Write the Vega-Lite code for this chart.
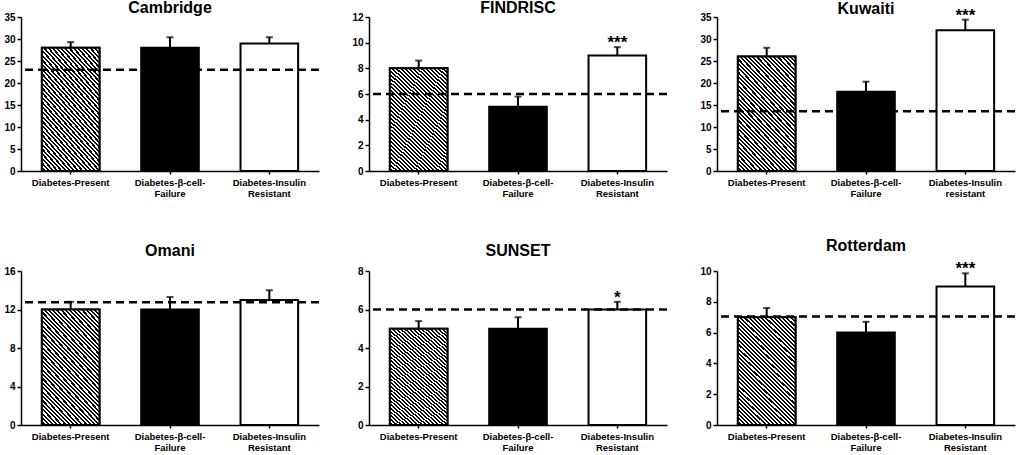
{
  "$schema": "https://vega.github.io/schema/vega-lite/v6.json",
  "padding": {"left": 3, "top": 0, "right": 0, "bottom": 0},
  "columns": 3,
  "spacing": {"row": 100, "column": 50},
  "bounds": "flush",
  "concat": [
    {
      "title": {"text": "Cambridge"},
      "width": 298,
      "height": 154,
      "data": {"values": [
        {"group": "Diabetes-Present", "mean": 28, "upper": 29.3, "ref": 23, "sig": ""},
        {"group": "Diabetes-β-cell-Failure", "mean": 28, "upper": 30.4, "ref": 23, "sig": ""},
        {"group": "Diabetes-Insulin Resistant", "mean": 29, "upper": 30.4, "ref": 23, "sig": ""}
      ]},
      "layer": [
        {
          "mark": {"type": "bar", "stroke": "black", "strokeWidth": 2},
          "encoding": {
            "x": {"field": "group", "type": "nominal", "sort": null, "scale": {"paddingInner": 0.42, "paddingOuter": 0.21}, "axis": {"title": null, "labelExpr": "datum.value == 'Diabetes-β-cell-Failure' ? ['Diabetes-β-cell-', 'Failure'] : indexof(datum.value, ' ') > 0 ? split(datum.value, ' ') : datum.value"}},
            "y": {"field": "mean", "type": "quantitative", "scale": {"domain": [0, 35], "nice": false}, "axis": {"title": null, "tickCount": 10, "values": [0, 5, 10, 15, 20, 25, 30, 35]}},
            "fill": {"condition": {"test": "datum.group === 'Diabetes-β-cell-Failure'", "value": "black"}, "value": "white"}
          }
        },
        {
          "transform": [{"filter": "datum.group === 'Diabetes-Present'"}],
          "mark": {"type": "bar", "stroke": "black", "strokeWidth": 2, "fill": {
          "gradient": "linear", "x1": 0, "y1": 1, "x2": 0.626, "y2": -0.196,
          "stops": [
            {"offset": 0, "color": "#fff"}, {"offset": 0.0125, "color": "#fff"}, {"offset": 0.0125, "color": "#000"}, {"offset": 0.025, "color": "#000"},
            {"offset": 0.025, "color": "#fff"}, {"offset": 0.0375, "color": "#fff"}, {"offset": 0.0375, "color": "#000"}, {"offset": 0.05, "color": "#000"},
            {"offset": 0.05, "color": "#fff"}, {"offset": 0.0625, "color": "#fff"}, {"offset": 0.0625, "color": "#000"}, {"offset": 0.075, "color": "#000"},
            {"offset": 0.075, "color": "#fff"}, {"offset": 0.0875, "color": "#fff"}, {"offset": 0.0875, "color": "#000"}, {"offset": 0.1, "color": "#000"},
            {"offset": 0.1, "color": "#fff"}, {"offset": 0.1125, "color": "#fff"}, {"offset": 0.1125, "color": "#000"}, {"offset": 0.125, "color": "#000"},
            {"offset": 0.125, "color": "#fff"}, {"offset": 0.1375, "color": "#fff"}, {"offset": 0.1375, "color": "#000"}, {"offset": 0.15, "color": "#000"},
            {"offset": 0.15, "color": "#fff"}, {"offset": 0.1625, "color": "#fff"}, {"offset": 0.1625, "color": "#000"}, {"offset": 0.175, "color": "#000"},
            {"offset": 0.175, "color": "#fff"}, {"offset": 0.1875, "color": "#fff"}, {"offset": 0.1875, "color": "#000"}, {"offset": 0.2, "color": "#000"},
            {"offset": 0.2, "color": "#fff"}, {"offset": 0.2125, "color": "#fff"}, {"offset": 0.2125, "color": "#000"}, {"offset": 0.225, "color": "#000"},
            {"offset": 0.225, "color": "#fff"}, {"offset": 0.2375, "color": "#fff"}, {"offset": 0.2375, "color": "#000"}, {"offset": 0.25, "color": "#000"},
            {"offset": 0.25, "color": "#fff"}, {"offset": 0.2625, "color": "#fff"}, {"offset": 0.2625, "color": "#000"}, {"offset": 0.275, "color": "#000"},
            {"offset": 0.275, "color": "#fff"}, {"offset": 0.2875, "color": "#fff"}, {"offset": 0.2875, "color": "#000"}, {"offset": 0.3, "color": "#000"},
            {"offset": 0.3, "color": "#fff"}, {"offset": 0.3125, "color": "#fff"}, {"offset": 0.3125, "color": "#000"}, {"offset": 0.325, "color": "#000"},
            {"offset": 0.325, "color": "#fff"}, {"offset": 0.3375, "color": "#fff"}, {"offset": 0.3375, "color": "#000"}, {"offset": 0.35, "color": "#000"},
            {"offset": 0.35, "color": "#fff"}, {"offset": 0.3625, "color": "#fff"}, {"offset": 0.3625, "color": "#000"}, {"offset": 0.375, "color": "#000"},
            {"offset": 0.375, "color": "#fff"}, {"offset": 0.3875, "color": "#fff"}, {"offset": 0.3875, "color": "#000"}, {"offset": 0.4, "color": "#000"},
            {"offset": 0.4, "color": "#fff"}, {"offset": 0.4125, "color": "#fff"}, {"offset": 0.4125, "color": "#000"}, {"offset": 0.425, "color": "#000"},
            {"offset": 0.425, "color": "#fff"}, {"offset": 0.4375, "color": "#fff"}, {"offset": 0.4375, "color": "#000"}, {"offset": 0.45, "color": "#000"},
            {"offset": 0.45, "color": "#fff"}, {"offset": 0.4625, "color": "#fff"}, {"offset": 0.4625, "color": "#000"}, {"offset": 0.475, "color": "#000"},
            {"offset": 0.475, "color": "#fff"}, {"offset": 0.4875, "color": "#fff"}, {"offset": 0.4875, "color": "#000"}, {"offset": 0.5, "color": "#000"},
            {"offset": 0.5, "color": "#fff"}, {"offset": 0.5125, "color": "#fff"}, {"offset": 0.5125, "color": "#000"}, {"offset": 0.525, "color": "#000"},
            {"offset": 0.525, "color": "#fff"}, {"offset": 0.5375, "color": "#fff"}, {"offset": 0.5375, "color": "#000"}, {"offset": 0.55, "color": "#000"},
            {"offset": 0.55, "color": "#fff"}, {"offset": 0.5625, "color": "#fff"}, {"offset": 0.5625, "color": "#000"}, {"offset": 0.575, "color": "#000"},
            {"offset": 0.575, "color": "#fff"}, {"offset": 0.5875, "color": "#fff"}, {"offset": 0.5875, "color": "#000"}, {"offset": 0.6, "color": "#000"},
            {"offset": 0.6, "color": "#fff"}, {"offset": 0.6125, "color": "#fff"}, {"offset": 0.6125, "color": "#000"}, {"offset": 0.625, "color": "#000"},
            {"offset": 0.625, "color": "#fff"}, {"offset": 0.6375, "color": "#fff"}, {"offset": 0.6375, "color": "#000"}, {"offset": 0.65, "color": "#000"},
            {"offset": 0.65, "color": "#fff"}, {"offset": 0.6625, "color": "#fff"}, {"offset": 0.6625, "color": "#000"}, {"offset": 0.675, "color": "#000"},
            {"offset": 0.675, "color": "#fff"}, {"offset": 0.6875, "color": "#fff"}, {"offset": 0.6875, "color": "#000"}, {"offset": 0.7, "color": "#000"},
            {"offset": 0.7, "color": "#fff"}, {"offset": 0.7125, "color": "#fff"}, {"offset": 0.7125, "color": "#000"}, {"offset": 0.725, "color": "#000"},
            {"offset": 0.725, "color": "#fff"}, {"offset": 0.7375, "color": "#fff"}, {"offset": 0.7375, "color": "#000"}, {"offset": 0.75, "color": "#000"},
            {"offset": 0.75, "color": "#fff"}, {"offset": 0.7625, "color": "#fff"}, {"offset": 0.7625, "color": "#000"}, {"offset": 0.775, "color": "#000"},
            {"offset": 0.775, "color": "#fff"}, {"offset": 0.7875, "color": "#fff"}, {"offset": 0.7875, "color": "#000"}, {"offset": 0.8, "color": "#000"},
            {"offset": 0.8, "color": "#fff"}, {"offset": 0.8125, "color": "#fff"}, {"offset": 0.8125, "color": "#000"}, {"offset": 0.825, "color": "#000"},
            {"offset": 0.825, "color": "#fff"}, {"offset": 0.8375, "color": "#fff"}, {"offset": 0.8375, "color": "#000"}, {"offset": 0.85, "color": "#000"},
            {"offset": 0.85, "color": "#fff"}, {"offset": 0.8625, "color": "#fff"}, {"offset": 0.8625, "color": "#000"}, {"offset": 0.875, "color": "#000"},
            {"offset": 0.875, "color": "#fff"}, {"offset": 0.8875, "color": "#fff"}, {"offset": 0.8875, "color": "#000"}, {"offset": 0.9, "color": "#000"},
            {"offset": 0.9, "color": "#fff"}, {"offset": 0.9125, "color": "#fff"}, {"offset": 0.9125, "color": "#000"}, {"offset": 0.925, "color": "#000"},
            {"offset": 0.925, "color": "#fff"}, {"offset": 0.9375, "color": "#fff"}, {"offset": 0.9375, "color": "#000"}, {"offset": 0.95, "color": "#000"},
            {"offset": 0.95, "color": "#fff"}, {"offset": 0.9625, "color": "#fff"}, {"offset": 0.9625, "color": "#000"}, {"offset": 0.975, "color": "#000"},
            {"offset": 0.975, "color": "#fff"}, {"offset": 0.9875, "color": "#fff"}, {"offset": 0.9875, "color": "#000"}, {"offset": 1, "color": "#000"}
          ]}},
          "encoding": {"x": {"field": "group", "type": "nominal", "sort": null}, "y": {"field": "mean", "type": "quantitative"}}
        },
        {
          "mark": {"type": "rule", "strokeWidth": 2, "color": "black"},
          "encoding": {"x": {"field": "group", "type": "nominal", "sort": null}, "y": {"field": "mean", "type": "quantitative"}, "y2": {"field": "upper"}}
        },
        {
          "mark": {"type": "tick", "size": 7, "thickness": 2, "color": "black"},
          "encoding": {"x": {"field": "group", "type": "nominal", "sort": null}, "y": {"field": "upper", "type": "quantitative"}}
        },
        {
          "mark": {"type": "rule", "strokeDash": [8, 5], "strokeWidth": 2.5, "color": "black"},
          "encoding": {"y": {"aggregate": "mean", "field": "ref", "type": "quantitative"}}
        }
      ]
    },
    {
      "title": {"text": "FINDRISC"},
      "width": 298,
      "height": 154,
      "data": {"values": [
        {"group": "Diabetes-Present", "mean": 8, "upper": 8.6, "ref": 6, "sig": ""},
        {"group": "Diabetes-β-cell-Failure", "mean": 5, "upper": 5.8, "ref": 6, "sig": ""},
        {"group": "Diabetes-Insulin Resistant", "mean": 9, "upper": 9.65, "ref": 6, "sig": "***"}
      ]},
      "layer": [
        {
          "mark": {"type": "bar", "stroke": "black", "strokeWidth": 2},
          "encoding": {
            "x": {"field": "group", "type": "nominal", "sort": null, "scale": {"paddingInner": 0.42, "paddingOuter": 0.21}, "axis": {"title": null, "labelExpr": "datum.value == 'Diabetes-β-cell-Failure' ? ['Diabetes-β-cell-', 'Failure'] : indexof(datum.value, ' ') > 0 ? split(datum.value, ' ') : datum.value"}},
            "y": {"field": "mean", "type": "quantitative", "scale": {"domain": [0, 12], "nice": false}, "axis": {"title": null, "tickCount": 10, "values": [0, 2, 4, 6, 8, 10, 12]}},
            "fill": {"condition": {"test": "datum.group === 'Diabetes-β-cell-Failure'", "value": "black"}, "value": "white"}
          }
        },
        {
          "transform": [{"filter": "datum.group === 'Diabetes-Present'"}],
          "mark": {"type": "bar", "stroke": "black", "strokeWidth": 2, "fill": {
          "gradient": "linear", "x1": 0, "y1": 1, "x2": 0.626, "y2": -0.196,
          "stops": [
            {"offset": 0, "color": "#fff"}, {"offset": 0.0125, "color": "#fff"}, {"offset": 0.0125, "color": "#000"}, {"offset": 0.025, "color": "#000"},
            {"offset": 0.025, "color": "#fff"}, {"offset": 0.0375, "color": "#fff"}, {"offset": 0.0375, "color": "#000"}, {"offset": 0.05, "color": "#000"},
            {"offset": 0.05, "color": "#fff"}, {"offset": 0.0625, "color": "#fff"}, {"offset": 0.0625, "color": "#000"}, {"offset": 0.075, "color": "#000"},
            {"offset": 0.075, "color": "#fff"}, {"offset": 0.0875, "color": "#fff"}, {"offset": 0.0875, "color": "#000"}, {"offset": 0.1, "color": "#000"},
            {"offset": 0.1, "color": "#fff"}, {"offset": 0.1125, "color": "#fff"}, {"offset": 0.1125, "color": "#000"}, {"offset": 0.125, "color": "#000"},
            {"offset": 0.125, "color": "#fff"}, {"offset": 0.1375, "color": "#fff"}, {"offset": 0.1375, "color": "#000"}, {"offset": 0.15, "color": "#000"},
            {"offset": 0.15, "color": "#fff"}, {"offset": 0.1625, "color": "#fff"}, {"offset": 0.1625, "color": "#000"}, {"offset": 0.175, "color": "#000"},
            {"offset": 0.175, "color": "#fff"}, {"offset": 0.1875, "color": "#fff"}, {"offset": 0.1875, "color": "#000"}, {"offset": 0.2, "color": "#000"},
            {"offset": 0.2, "color": "#fff"}, {"offset": 0.2125, "color": "#fff"}, {"offset": 0.2125, "color": "#000"}, {"offset": 0.225, "color": "#000"},
            {"offset": 0.225, "color": "#fff"}, {"offset": 0.2375, "color": "#fff"}, {"offset": 0.2375, "color": "#000"}, {"offset": 0.25, "color": "#000"},
            {"offset": 0.25, "color": "#fff"}, {"offset": 0.2625, "color": "#fff"}, {"offset": 0.2625, "color": "#000"}, {"offset": 0.275, "color": "#000"},
            {"offset": 0.275, "color": "#fff"}, {"offset": 0.2875, "color": "#fff"}, {"offset": 0.2875, "color": "#000"}, {"offset": 0.3, "color": "#000"},
            {"offset": 0.3, "color": "#fff"}, {"offset": 0.3125, "color": "#fff"}, {"offset": 0.3125, "color": "#000"}, {"offset": 0.325, "color": "#000"},
            {"offset": 0.325, "color": "#fff"}, {"offset": 0.3375, "color": "#fff"}, {"offset": 0.3375, "color": "#000"}, {"offset": 0.35, "color": "#000"},
            {"offset": 0.35, "color": "#fff"}, {"offset": 0.3625, "color": "#fff"}, {"offset": 0.3625, "color": "#000"}, {"offset": 0.375, "color": "#000"},
            {"offset": 0.375, "color": "#fff"}, {"offset": 0.3875, "color": "#fff"}, {"offset": 0.3875, "color": "#000"}, {"offset": 0.4, "color": "#000"},
            {"offset": 0.4, "color": "#fff"}, {"offset": 0.4125, "color": "#fff"}, {"offset": 0.4125, "color": "#000"}, {"offset": 0.425, "color": "#000"},
            {"offset": 0.425, "color": "#fff"}, {"offset": 0.4375, "color": "#fff"}, {"offset": 0.4375, "color": "#000"}, {"offset": 0.45, "color": "#000"},
            {"offset": 0.45, "color": "#fff"}, {"offset": 0.4625, "color": "#fff"}, {"offset": 0.4625, "color": "#000"}, {"offset": 0.475, "color": "#000"},
            {"offset": 0.475, "color": "#fff"}, {"offset": 0.4875, "color": "#fff"}, {"offset": 0.4875, "color": "#000"}, {"offset": 0.5, "color": "#000"},
            {"offset": 0.5, "color": "#fff"}, {"offset": 0.5125, "color": "#fff"}, {"offset": 0.5125, "color": "#000"}, {"offset": 0.525, "color": "#000"},
            {"offset": 0.525, "color": "#fff"}, {"offset": 0.5375, "color": "#fff"}, {"offset": 0.5375, "color": "#000"}, {"offset": 0.55, "color": "#000"},
            {"offset": 0.55, "color": "#fff"}, {"offset": 0.5625, "color": "#fff"}, {"offset": 0.5625, "color": "#000"}, {"offset": 0.575, "color": "#000"},
            {"offset": 0.575, "color": "#fff"}, {"offset": 0.5875, "color": "#fff"}, {"offset": 0.5875, "color": "#000"}, {"offset": 0.6, "color": "#000"},
            {"offset": 0.6, "color": "#fff"}, {"offset": 0.6125, "color": "#fff"}, {"offset": 0.6125, "color": "#000"}, {"offset": 0.625, "color": "#000"},
            {"offset": 0.625, "color": "#fff"}, {"offset": 0.6375, "color": "#fff"}, {"offset": 0.6375, "color": "#000"}, {"offset": 0.65, "color": "#000"},
            {"offset": 0.65, "color": "#fff"}, {"offset": 0.6625, "color": "#fff"}, {"offset": 0.6625, "color": "#000"}, {"offset": 0.675, "color": "#000"},
            {"offset": 0.675, "color": "#fff"}, {"offset": 0.6875, "color": "#fff"}, {"offset": 0.6875, "color": "#000"}, {"offset": 0.7, "color": "#000"},
            {"offset": 0.7, "color": "#fff"}, {"offset": 0.7125, "color": "#fff"}, {"offset": 0.7125, "color": "#000"}, {"offset": 0.725, "color": "#000"},
            {"offset": 0.725, "color": "#fff"}, {"offset": 0.7375, "color": "#fff"}, {"offset": 0.7375, "color": "#000"}, {"offset": 0.75, "color": "#000"},
            {"offset": 0.75, "color": "#fff"}, {"offset": 0.7625, "color": "#fff"}, {"offset": 0.7625, "color": "#000"}, {"offset": 0.775, "color": "#000"},
            {"offset": 0.775, "color": "#fff"}, {"offset": 0.7875, "color": "#fff"}, {"offset": 0.7875, "color": "#000"}, {"offset": 0.8, "color": "#000"},
            {"offset": 0.8, "color": "#fff"}, {"offset": 0.8125, "color": "#fff"}, {"offset": 0.8125, "color": "#000"}, {"offset": 0.825, "color": "#000"},
            {"offset": 0.825, "color": "#fff"}, {"offset": 0.8375, "color": "#fff"}, {"offset": 0.8375, "color": "#000"}, {"offset": 0.85, "color": "#000"},
            {"offset": 0.85, "color": "#fff"}, {"offset": 0.8625, "color": "#fff"}, {"offset": 0.8625, "color": "#000"}, {"offset": 0.875, "color": "#000"},
            {"offset": 0.875, "color": "#fff"}, {"offset": 0.8875, "color": "#fff"}, {"offset": 0.8875, "color": "#000"}, {"offset": 0.9, "color": "#000"},
            {"offset": 0.9, "color": "#fff"}, {"offset": 0.9125, "color": "#fff"}, {"offset": 0.9125, "color": "#000"}, {"offset": 0.925, "color": "#000"},
            {"offset": 0.925, "color": "#fff"}, {"offset": 0.9375, "color": "#fff"}, {"offset": 0.9375, "color": "#000"}, {"offset": 0.95, "color": "#000"},
            {"offset": 0.95, "color": "#fff"}, {"offset": 0.9625, "color": "#fff"}, {"offset": 0.9625, "color": "#000"}, {"offset": 0.975, "color": "#000"},
            {"offset": 0.975, "color": "#fff"}, {"offset": 0.9875, "color": "#fff"}, {"offset": 0.9875, "color": "#000"}, {"offset": 1, "color": "#000"}
          ]}},
          "encoding": {"x": {"field": "group", "type": "nominal", "sort": null}, "y": {"field": "mean", "type": "quantitative"}}
        },
        {
          "mark": {"type": "rule", "strokeWidth": 2, "color": "black"},
          "encoding": {"x": {"field": "group", "type": "nominal", "sort": null}, "y": {"field": "mean", "type": "quantitative"}, "y2": {"field": "upper"}}
        },
        {
          "mark": {"type": "tick", "size": 7, "thickness": 2, "color": "black"},
          "encoding": {"x": {"field": "group", "type": "nominal", "sort": null}, "y": {"field": "upper", "type": "quantitative"}}
        },
        {
          "mark": {"type": "text", "baseline": "alphabetic", "dy": 1, "fontSize": 17, "font": "Liberation Sans", "fontWeight": "bold", "color": "black"},
          "encoding": {"x": {"field": "group", "type": "nominal", "sort": null}, "y": {"field": "upper", "type": "quantitative"}, "text": {"field": "sig"}}
        },
        {
          "mark": {"type": "rule", "strokeDash": [8, 5], "strokeWidth": 2.5, "color": "black"},
          "encoding": {"y": {"aggregate": "mean", "field": "ref", "type": "quantitative"}}
        }
      ]
    },
    {
      "title": {"text": "Kuwaiti", "dy": 6.5},
      "width": 298,
      "height": 154,
      "data": {"values": [
        {"group": "Diabetes-Present", "mean": 26, "upper": 28, "ref": 13.6, "sig": ""},
        {"group": "Diabetes-β-cell-Failure", "mean": 18, "upper": 20.3, "ref": 13.6, "sig": ""},
        {"group": "Diabetes-Insulin resistant", "mean": 32, "upper": 34.4, "ref": 13.6, "sig": "***"}
      ]},
      "layer": [
        {
          "mark": {"type": "bar", "stroke": "black", "strokeWidth": 2},
          "encoding": {
            "x": {"field": "group", "type": "nominal", "sort": null, "scale": {"paddingInner": 0.42, "paddingOuter": 0.21}, "axis": {"title": null, "labelExpr": "datum.value == 'Diabetes-β-cell-Failure' ? ['Diabetes-β-cell-', 'Failure'] : indexof(datum.value, ' ') > 0 ? split(datum.value, ' ') : datum.value"}},
            "y": {"field": "mean", "type": "quantitative", "scale": {"domain": [0, 35], "nice": false}, "axis": {"title": null, "tickCount": 10, "values": [0, 5, 10, 15, 20, 25, 30, 35]}},
            "fill": {"condition": {"test": "datum.group === 'Diabetes-β-cell-Failure'", "value": "black"}, "value": "white"}
          }
        },
        {
          "transform": [{"filter": "datum.group === 'Diabetes-Present'"}],
          "mark": {"type": "bar", "stroke": "black", "strokeWidth": 2, "fill": {
          "gradient": "linear", "x1": 0, "y1": 1, "x2": 0.626, "y2": -0.196,
          "stops": [
            {"offset": 0, "color": "#fff"}, {"offset": 0.0125, "color": "#fff"}, {"offset": 0.0125, "color": "#000"}, {"offset": 0.025, "color": "#000"},
            {"offset": 0.025, "color": "#fff"}, {"offset": 0.0375, "color": "#fff"}, {"offset": 0.0375, "color": "#000"}, {"offset": 0.05, "color": "#000"},
            {"offset": 0.05, "color": "#fff"}, {"offset": 0.0625, "color": "#fff"}, {"offset": 0.0625, "color": "#000"}, {"offset": 0.075, "color": "#000"},
            {"offset": 0.075, "color": "#fff"}, {"offset": 0.0875, "color": "#fff"}, {"offset": 0.0875, "color": "#000"}, {"offset": 0.1, "color": "#000"},
            {"offset": 0.1, "color": "#fff"}, {"offset": 0.1125, "color": "#fff"}, {"offset": 0.1125, "color": "#000"}, {"offset": 0.125, "color": "#000"},
            {"offset": 0.125, "color": "#fff"}, {"offset": 0.1375, "color": "#fff"}, {"offset": 0.1375, "color": "#000"}, {"offset": 0.15, "color": "#000"},
            {"offset": 0.15, "color": "#fff"}, {"offset": 0.1625, "color": "#fff"}, {"offset": 0.1625, "color": "#000"}, {"offset": 0.175, "color": "#000"},
            {"offset": 0.175, "color": "#fff"}, {"offset": 0.1875, "color": "#fff"}, {"offset": 0.1875, "color": "#000"}, {"offset": 0.2, "color": "#000"},
            {"offset": 0.2, "color": "#fff"}, {"offset": 0.2125, "color": "#fff"}, {"offset": 0.2125, "color": "#000"}, {"offset": 0.225, "color": "#000"},
            {"offset": 0.225, "color": "#fff"}, {"offset": 0.2375, "color": "#fff"}, {"offset": 0.2375, "color": "#000"}, {"offset": 0.25, "color": "#000"},
            {"offset": 0.25, "color": "#fff"}, {"offset": 0.2625, "color": "#fff"}, {"offset": 0.2625, "color": "#000"}, {"offset": 0.275, "color": "#000"},
            {"offset": 0.275, "color": "#fff"}, {"offset": 0.2875, "color": "#fff"}, {"offset": 0.2875, "color": "#000"}, {"offset": 0.3, "color": "#000"},
            {"offset": 0.3, "color": "#fff"}, {"offset": 0.3125, "color": "#fff"}, {"offset": 0.3125, "color": "#000"}, {"offset": 0.325, "color": "#000"},
            {"offset": 0.325, "color": "#fff"}, {"offset": 0.3375, "color": "#fff"}, {"offset": 0.3375, "color": "#000"}, {"offset": 0.35, "color": "#000"},
            {"offset": 0.35, "color": "#fff"}, {"offset": 0.3625, "color": "#fff"}, {"offset": 0.3625, "color": "#000"}, {"offset": 0.375, "color": "#000"},
            {"offset": 0.375, "color": "#fff"}, {"offset": 0.3875, "color": "#fff"}, {"offset": 0.3875, "color": "#000"}, {"offset": 0.4, "color": "#000"},
            {"offset": 0.4, "color": "#fff"}, {"offset": 0.4125, "color": "#fff"}, {"offset": 0.4125, "color": "#000"}, {"offset": 0.425, "color": "#000"},
            {"offset": 0.425, "color": "#fff"}, {"offset": 0.4375, "color": "#fff"}, {"offset": 0.4375, "color": "#000"}, {"offset": 0.45, "color": "#000"},
            {"offset": 0.45, "color": "#fff"}, {"offset": 0.4625, "color": "#fff"}, {"offset": 0.4625, "color": "#000"}, {"offset": 0.475, "color": "#000"},
            {"offset": 0.475, "color": "#fff"}, {"offset": 0.4875, "color": "#fff"}, {"offset": 0.4875, "color": "#000"}, {"offset": 0.5, "color": "#000"},
            {"offset": 0.5, "color": "#fff"}, {"offset": 0.5125, "color": "#fff"}, {"offset": 0.5125, "color": "#000"}, {"offset": 0.525, "color": "#000"},
            {"offset": 0.525, "color": "#fff"}, {"offset": 0.5375, "color": "#fff"}, {"offset": 0.5375, "color": "#000"}, {"offset": 0.55, "color": "#000"},
            {"offset": 0.55, "color": "#fff"}, {"offset": 0.5625, "color": "#fff"}, {"offset": 0.5625, "color": "#000"}, {"offset": 0.575, "color": "#000"},
            {"offset": 0.575, "color": "#fff"}, {"offset": 0.5875, "color": "#fff"}, {"offset": 0.5875, "color": "#000"}, {"offset": 0.6, "color": "#000"},
            {"offset": 0.6, "color": "#fff"}, {"offset": 0.6125, "color": "#fff"}, {"offset": 0.6125, "color": "#000"}, {"offset": 0.625, "color": "#000"},
            {"offset": 0.625, "color": "#fff"}, {"offset": 0.6375, "color": "#fff"}, {"offset": 0.6375, "color": "#000"}, {"offset": 0.65, "color": "#000"},
            {"offset": 0.65, "color": "#fff"}, {"offset": 0.6625, "color": "#fff"}, {"offset": 0.6625, "color": "#000"}, {"offset": 0.675, "color": "#000"},
            {"offset": 0.675, "color": "#fff"}, {"offset": 0.6875, "color": "#fff"}, {"offset": 0.6875, "color": "#000"}, {"offset": 0.7, "color": "#000"},
            {"offset": 0.7, "color": "#fff"}, {"offset": 0.7125, "color": "#fff"}, {"offset": 0.7125, "color": "#000"}, {"offset": 0.725, "color": "#000"},
            {"offset": 0.725, "color": "#fff"}, {"offset": 0.7375, "color": "#fff"}, {"offset": 0.7375, "color": "#000"}, {"offset": 0.75, "color": "#000"},
            {"offset": 0.75, "color": "#fff"}, {"offset": 0.7625, "color": "#fff"}, {"offset": 0.7625, "color": "#000"}, {"offset": 0.775, "color": "#000"},
            {"offset": 0.775, "color": "#fff"}, {"offset": 0.7875, "color": "#fff"}, {"offset": 0.7875, "color": "#000"}, {"offset": 0.8, "color": "#000"},
            {"offset": 0.8, "color": "#fff"}, {"offset": 0.8125, "color": "#fff"}, {"offset": 0.8125, "color": "#000"}, {"offset": 0.825, "color": "#000"},
            {"offset": 0.825, "color": "#fff"}, {"offset": 0.8375, "color": "#fff"}, {"offset": 0.8375, "color": "#000"}, {"offset": 0.85, "color": "#000"},
            {"offset": 0.85, "color": "#fff"}, {"offset": 0.8625, "color": "#fff"}, {"offset": 0.8625, "color": "#000"}, {"offset": 0.875, "color": "#000"},
            {"offset": 0.875, "color": "#fff"}, {"offset": 0.8875, "color": "#fff"}, {"offset": 0.8875, "color": "#000"}, {"offset": 0.9, "color": "#000"},
            {"offset": 0.9, "color": "#fff"}, {"offset": 0.9125, "color": "#fff"}, {"offset": 0.9125, "color": "#000"}, {"offset": 0.925, "color": "#000"},
            {"offset": 0.925, "color": "#fff"}, {"offset": 0.9375, "color": "#fff"}, {"offset": 0.9375, "color": "#000"}, {"offset": 0.95, "color": "#000"},
            {"offset": 0.95, "color": "#fff"}, {"offset": 0.9625, "color": "#fff"}, {"offset": 0.9625, "color": "#000"}, {"offset": 0.975, "color": "#000"},
            {"offset": 0.975, "color": "#fff"}, {"offset": 0.9875, "color": "#fff"}, {"offset": 0.9875, "color": "#000"}, {"offset": 1, "color": "#000"}
          ]}},
          "encoding": {"x": {"field": "group", "type": "nominal", "sort": null}, "y": {"field": "mean", "type": "quantitative"}}
        },
        {
          "mark": {"type": "rule", "strokeWidth": 2, "color": "black"},
          "encoding": {"x": {"field": "group", "type": "nominal", "sort": null}, "y": {"field": "mean", "type": "quantitative"}, "y2": {"field": "upper"}}
        },
        {
          "mark": {"type": "tick", "size": 7, "thickness": 2, "color": "black"},
          "encoding": {"x": {"field": "group", "type": "nominal", "sort": null}, "y": {"field": "upper", "type": "quantitative"}}
        },
        {
          "mark": {"type": "text", "baseline": "alphabetic", "dy": 1, "fontSize": 17, "font": "Liberation Sans", "fontWeight": "bold", "color": "black"},
          "encoding": {"x": {"field": "group", "type": "nominal", "sort": null}, "y": {"field": "upper", "type": "quantitative"}, "text": {"field": "sig"}}
        },
        {
          "mark": {"type": "rule", "strokeDash": [8, 5], "strokeWidth": 2.5, "color": "black"},
          "encoding": {"y": {"aggregate": "mean", "field": "ref", "type": "quantitative"}}
        }
      ]
    },
    {
      "title": {"text": "Omani", "dy": -11},
      "width": 298,
      "height": 154,
      "data": {"values": [
        {"group": "Diabetes-Present", "mean": 12, "upper": 12.8, "ref": 12.75, "sig": ""},
        {"group": "Diabetes-β-cell-Failure", "mean": 12, "upper": 13.3, "ref": 12.75, "sig": ""},
        {"group": "Diabetes-Insulin Resistant", "mean": 13, "upper": 14, "ref": 12.75, "sig": ""}
      ]},
      "layer": [
        {
          "mark": {"type": "bar", "stroke": "black", "strokeWidth": 2},
          "encoding": {
            "x": {"field": "group", "type": "nominal", "sort": null, "scale": {"paddingInner": 0.42, "paddingOuter": 0.21}, "axis": {"title": null, "labelExpr": "datum.value == 'Diabetes-β-cell-Failure' ? ['Diabetes-β-cell-', 'Failure'] : indexof(datum.value, ' ') > 0 ? split(datum.value, ' ') : datum.value"}},
            "y": {"field": "mean", "type": "quantitative", "scale": {"domain": [0, 16], "nice": false}, "axis": {"title": null, "tickCount": 10, "values": [0, 4, 8, 12, 16]}},
            "fill": {"condition": {"test": "datum.group === 'Diabetes-β-cell-Failure'", "value": "black"}, "value": "white"}
          }
        },
        {
          "transform": [{"filter": "datum.group === 'Diabetes-Present'"}],
          "mark": {"type": "bar", "stroke": "black", "strokeWidth": 2, "fill": {
          "gradient": "linear", "x1": 0, "y1": 1, "x2": 0.626, "y2": -0.196,
          "stops": [
            {"offset": 0, "color": "#fff"}, {"offset": 0.0125, "color": "#fff"}, {"offset": 0.0125, "color": "#000"}, {"offset": 0.025, "color": "#000"},
            {"offset": 0.025, "color": "#fff"}, {"offset": 0.0375, "color": "#fff"}, {"offset": 0.0375, "color": "#000"}, {"offset": 0.05, "color": "#000"},
            {"offset": 0.05, "color": "#fff"}, {"offset": 0.0625, "color": "#fff"}, {"offset": 0.0625, "color": "#000"}, {"offset": 0.075, "color": "#000"},
            {"offset": 0.075, "color": "#fff"}, {"offset": 0.0875, "color": "#fff"}, {"offset": 0.0875, "color": "#000"}, {"offset": 0.1, "color": "#000"},
            {"offset": 0.1, "color": "#fff"}, {"offset": 0.1125, "color": "#fff"}, {"offset": 0.1125, "color": "#000"}, {"offset": 0.125, "color": "#000"},
            {"offset": 0.125, "color": "#fff"}, {"offset": 0.1375, "color": "#fff"}, {"offset": 0.1375, "color": "#000"}, {"offset": 0.15, "color": "#000"},
            {"offset": 0.15, "color": "#fff"}, {"offset": 0.1625, "color": "#fff"}, {"offset": 0.1625, "color": "#000"}, {"offset": 0.175, "color": "#000"},
            {"offset": 0.175, "color": "#fff"}, {"offset": 0.1875, "color": "#fff"}, {"offset": 0.1875, "color": "#000"}, {"offset": 0.2, "color": "#000"},
            {"offset": 0.2, "color": "#fff"}, {"offset": 0.2125, "color": "#fff"}, {"offset": 0.2125, "color": "#000"}, {"offset": 0.225, "color": "#000"},
            {"offset": 0.225, "color": "#fff"}, {"offset": 0.2375, "color": "#fff"}, {"offset": 0.2375, "color": "#000"}, {"offset": 0.25, "color": "#000"},
            {"offset": 0.25, "color": "#fff"}, {"offset": 0.2625, "color": "#fff"}, {"offset": 0.2625, "color": "#000"}, {"offset": 0.275, "color": "#000"},
            {"offset": 0.275, "color": "#fff"}, {"offset": 0.2875, "color": "#fff"}, {"offset": 0.2875, "color": "#000"}, {"offset": 0.3, "color": "#000"},
            {"offset": 0.3, "color": "#fff"}, {"offset": 0.3125, "color": "#fff"}, {"offset": 0.3125, "color": "#000"}, {"offset": 0.325, "color": "#000"},
            {"offset": 0.325, "color": "#fff"}, {"offset": 0.3375, "color": "#fff"}, {"offset": 0.3375, "color": "#000"}, {"offset": 0.35, "color": "#000"},
            {"offset": 0.35, "color": "#fff"}, {"offset": 0.3625, "color": "#fff"}, {"offset": 0.3625, "color": "#000"}, {"offset": 0.375, "color": "#000"},
            {"offset": 0.375, "color": "#fff"}, {"offset": 0.3875, "color": "#fff"}, {"offset": 0.3875, "color": "#000"}, {"offset": 0.4, "color": "#000"},
            {"offset": 0.4, "color": "#fff"}, {"offset": 0.4125, "color": "#fff"}, {"offset": 0.4125, "color": "#000"}, {"offset": 0.425, "color": "#000"},
            {"offset": 0.425, "color": "#fff"}, {"offset": 0.4375, "color": "#fff"}, {"offset": 0.4375, "color": "#000"}, {"offset": 0.45, "color": "#000"},
            {"offset": 0.45, "color": "#fff"}, {"offset": 0.4625, "color": "#fff"}, {"offset": 0.4625, "color": "#000"}, {"offset": 0.475, "color": "#000"},
            {"offset": 0.475, "color": "#fff"}, {"offset": 0.4875, "color": "#fff"}, {"offset": 0.4875, "color": "#000"}, {"offset": 0.5, "color": "#000"},
            {"offset": 0.5, "color": "#fff"}, {"offset": 0.5125, "color": "#fff"}, {"offset": 0.5125, "color": "#000"}, {"offset": 0.525, "color": "#000"},
            {"offset": 0.525, "color": "#fff"}, {"offset": 0.5375, "color": "#fff"}, {"offset": 0.5375, "color": "#000"}, {"offset": 0.55, "color": "#000"},
            {"offset": 0.55, "color": "#fff"}, {"offset": 0.5625, "color": "#fff"}, {"offset": 0.5625, "color": "#000"}, {"offset": 0.575, "color": "#000"},
            {"offset": 0.575, "color": "#fff"}, {"offset": 0.5875, "color": "#fff"}, {"offset": 0.5875, "color": "#000"}, {"offset": 0.6, "color": "#000"},
            {"offset": 0.6, "color": "#fff"}, {"offset": 0.6125, "color": "#fff"}, {"offset": 0.6125, "color": "#000"}, {"offset": 0.625, "color": "#000"},
            {"offset": 0.625, "color": "#fff"}, {"offset": 0.6375, "color": "#fff"}, {"offset": 0.6375, "color": "#000"}, {"offset": 0.65, "color": "#000"},
            {"offset": 0.65, "color": "#fff"}, {"offset": 0.6625, "color": "#fff"}, {"offset": 0.6625, "color": "#000"}, {"offset": 0.675, "color": "#000"},
            {"offset": 0.675, "color": "#fff"}, {"offset": 0.6875, "color": "#fff"}, {"offset": 0.6875, "color": "#000"}, {"offset": 0.7, "color": "#000"},
            {"offset": 0.7, "color": "#fff"}, {"offset": 0.7125, "color": "#fff"}, {"offset": 0.7125, "color": "#000"}, {"offset": 0.725, "color": "#000"},
            {"offset": 0.725, "color": "#fff"}, {"offset": 0.7375, "color": "#fff"}, {"offset": 0.7375, "color": "#000"}, {"offset": 0.75, "color": "#000"},
            {"offset": 0.75, "color": "#fff"}, {"offset": 0.7625, "color": "#fff"}, {"offset": 0.7625, "color": "#000"}, {"offset": 0.775, "color": "#000"},
            {"offset": 0.775, "color": "#fff"}, {"offset": 0.7875, "color": "#fff"}, {"offset": 0.7875, "color": "#000"}, {"offset": 0.8, "color": "#000"},
            {"offset": 0.8, "color": "#fff"}, {"offset": 0.8125, "color": "#fff"}, {"offset": 0.8125, "color": "#000"}, {"offset": 0.825, "color": "#000"},
            {"offset": 0.825, "color": "#fff"}, {"offset": 0.8375, "color": "#fff"}, {"offset": 0.8375, "color": "#000"}, {"offset": 0.85, "color": "#000"},
            {"offset": 0.85, "color": "#fff"}, {"offset": 0.8625, "color": "#fff"}, {"offset": 0.8625, "color": "#000"}, {"offset": 0.875, "color": "#000"},
            {"offset": 0.875, "color": "#fff"}, {"offset": 0.8875, "color": "#fff"}, {"offset": 0.8875, "color": "#000"}, {"offset": 0.9, "color": "#000"},
            {"offset": 0.9, "color": "#fff"}, {"offset": 0.9125, "color": "#fff"}, {"offset": 0.9125, "color": "#000"}, {"offset": 0.925, "color": "#000"},
            {"offset": 0.925, "color": "#fff"}, {"offset": 0.9375, "color": "#fff"}, {"offset": 0.9375, "color": "#000"}, {"offset": 0.95, "color": "#000"},
            {"offset": 0.95, "color": "#fff"}, {"offset": 0.9625, "color": "#fff"}, {"offset": 0.9625, "color": "#000"}, {"offset": 0.975, "color": "#000"},
            {"offset": 0.975, "color": "#fff"}, {"offset": 0.9875, "color": "#fff"}, {"offset": 0.9875, "color": "#000"}, {"offset": 1, "color": "#000"}
          ]}},
          "encoding": {"x": {"field": "group", "type": "nominal", "sort": null}, "y": {"field": "mean", "type": "quantitative"}}
        },
        {
          "mark": {"type": "rule", "strokeWidth": 2, "color": "black"},
          "encoding": {"x": {"field": "group", "type": "nominal", "sort": null}, "y": {"field": "mean", "type": "quantitative"}, "y2": {"field": "upper"}}
        },
        {
          "mark": {"type": "tick", "size": 7, "thickness": 2, "color": "black"},
          "encoding": {"x": {"field": "group", "type": "nominal", "sort": null}, "y": {"field": "upper", "type": "quantitative"}}
        },
        {
          "mark": {"type": "rule", "strokeDash": [8, 5], "strokeWidth": 2.5, "color": "black"},
          "encoding": {"y": {"aggregate": "mean", "field": "ref", "type": "quantitative"}}
        }
      ]
    },
    {
      "title": {"text": "SUNSET", "dy": -11},
      "width": 298,
      "height": 154,
      "data": {"values": [
        {"group": "Diabetes-Present", "mean": 5, "upper": 5.4, "ref": 6, "sig": ""},
        {"group": "Diabetes-β-cell-Failure", "mean": 5, "upper": 5.6, "ref": 6, "sig": ""},
        {"group": "Diabetes-Insulin Resistant", "mean": 6, "upper": 6.4, "ref": 6, "sig": "*"}
      ]},
      "layer": [
        {
          "mark": {"type": "bar", "stroke": "black", "strokeWidth": 2},
          "encoding": {
            "x": {"field": "group", "type": "nominal", "sort": null, "scale": {"paddingInner": 0.42, "paddingOuter": 0.21}, "axis": {"title": null, "labelExpr": "datum.value == 'Diabetes-β-cell-Failure' ? ['Diabetes-β-cell-', 'Failure'] : indexof(datum.value, ' ') > 0 ? split(datum.value, ' ') : datum.value"}},
            "y": {"field": "mean", "type": "quantitative", "scale": {"domain": [0, 8], "nice": false}, "axis": {"title": null, "tickCount": 10, "values": [0, 2, 4, 6, 8]}},
            "fill": {"condition": {"test": "datum.group === 'Diabetes-β-cell-Failure'", "value": "black"}, "value": "white"}
          }
        },
        {
          "transform": [{"filter": "datum.group === 'Diabetes-Present'"}],
          "mark": {"type": "bar", "stroke": "black", "strokeWidth": 2, "fill": {
          "gradient": "linear", "x1": 0, "y1": 1, "x2": 0.626, "y2": -0.196,
          "stops": [
            {"offset": 0, "color": "#fff"}, {"offset": 0.0125, "color": "#fff"}, {"offset": 0.0125, "color": "#000"}, {"offset": 0.025, "color": "#000"},
            {"offset": 0.025, "color": "#fff"}, {"offset": 0.0375, "color": "#fff"}, {"offset": 0.0375, "color": "#000"}, {"offset": 0.05, "color": "#000"},
            {"offset": 0.05, "color": "#fff"}, {"offset": 0.0625, "color": "#fff"}, {"offset": 0.0625, "color": "#000"}, {"offset": 0.075, "color": "#000"},
            {"offset": 0.075, "color": "#fff"}, {"offset": 0.0875, "color": "#fff"}, {"offset": 0.0875, "color": "#000"}, {"offset": 0.1, "color": "#000"},
            {"offset": 0.1, "color": "#fff"}, {"offset": 0.1125, "color": "#fff"}, {"offset": 0.1125, "color": "#000"}, {"offset": 0.125, "color": "#000"},
            {"offset": 0.125, "color": "#fff"}, {"offset": 0.1375, "color": "#fff"}, {"offset": 0.1375, "color": "#000"}, {"offset": 0.15, "color": "#000"},
            {"offset": 0.15, "color": "#fff"}, {"offset": 0.1625, "color": "#fff"}, {"offset": 0.1625, "color": "#000"}, {"offset": 0.175, "color": "#000"},
            {"offset": 0.175, "color": "#fff"}, {"offset": 0.1875, "color": "#fff"}, {"offset": 0.1875, "color": "#000"}, {"offset": 0.2, "color": "#000"},
            {"offset": 0.2, "color": "#fff"}, {"offset": 0.2125, "color": "#fff"}, {"offset": 0.2125, "color": "#000"}, {"offset": 0.225, "color": "#000"},
            {"offset": 0.225, "color": "#fff"}, {"offset": 0.2375, "color": "#fff"}, {"offset": 0.2375, "color": "#000"}, {"offset": 0.25, "color": "#000"},
            {"offset": 0.25, "color": "#fff"}, {"offset": 0.2625, "color": "#fff"}, {"offset": 0.2625, "color": "#000"}, {"offset": 0.275, "color": "#000"},
            {"offset": 0.275, "color": "#fff"}, {"offset": 0.2875, "color": "#fff"}, {"offset": 0.2875, "color": "#000"}, {"offset": 0.3, "color": "#000"},
            {"offset": 0.3, "color": "#fff"}, {"offset": 0.3125, "color": "#fff"}, {"offset": 0.3125, "color": "#000"}, {"offset": 0.325, "color": "#000"},
            {"offset": 0.325, "color": "#fff"}, {"offset": 0.3375, "color": "#fff"}, {"offset": 0.3375, "color": "#000"}, {"offset": 0.35, "color": "#000"},
            {"offset": 0.35, "color": "#fff"}, {"offset": 0.3625, "color": "#fff"}, {"offset": 0.3625, "color": "#000"}, {"offset": 0.375, "color": "#000"},
            {"offset": 0.375, "color": "#fff"}, {"offset": 0.3875, "color": "#fff"}, {"offset": 0.3875, "color": "#000"}, {"offset": 0.4, "color": "#000"},
            {"offset": 0.4, "color": "#fff"}, {"offset": 0.4125, "color": "#fff"}, {"offset": 0.4125, "color": "#000"}, {"offset": 0.425, "color": "#000"},
            {"offset": 0.425, "color": "#fff"}, {"offset": 0.4375, "color": "#fff"}, {"offset": 0.4375, "color": "#000"}, {"offset": 0.45, "color": "#000"},
            {"offset": 0.45, "color": "#fff"}, {"offset": 0.4625, "color": "#fff"}, {"offset": 0.4625, "color": "#000"}, {"offset": 0.475, "color": "#000"},
            {"offset": 0.475, "color": "#fff"}, {"offset": 0.4875, "color": "#fff"}, {"offset": 0.4875, "color": "#000"}, {"offset": 0.5, "color": "#000"},
            {"offset": 0.5, "color": "#fff"}, {"offset": 0.5125, "color": "#fff"}, {"offset": 0.5125, "color": "#000"}, {"offset": 0.525, "color": "#000"},
            {"offset": 0.525, "color": "#fff"}, {"offset": 0.5375, "color": "#fff"}, {"offset": 0.5375, "color": "#000"}, {"offset": 0.55, "color": "#000"},
            {"offset": 0.55, "color": "#fff"}, {"offset": 0.5625, "color": "#fff"}, {"offset": 0.5625, "color": "#000"}, {"offset": 0.575, "color": "#000"},
            {"offset": 0.575, "color": "#fff"}, {"offset": 0.5875, "color": "#fff"}, {"offset": 0.5875, "color": "#000"}, {"offset": 0.6, "color": "#000"},
            {"offset": 0.6, "color": "#fff"}, {"offset": 0.6125, "color": "#fff"}, {"offset": 0.6125, "color": "#000"}, {"offset": 0.625, "color": "#000"},
            {"offset": 0.625, "color": "#fff"}, {"offset": 0.6375, "color": "#fff"}, {"offset": 0.6375, "color": "#000"}, {"offset": 0.65, "color": "#000"},
            {"offset": 0.65, "color": "#fff"}, {"offset": 0.6625, "color": "#fff"}, {"offset": 0.6625, "color": "#000"}, {"offset": 0.675, "color": "#000"},
            {"offset": 0.675, "color": "#fff"}, {"offset": 0.6875, "color": "#fff"}, {"offset": 0.6875, "color": "#000"}, {"offset": 0.7, "color": "#000"},
            {"offset": 0.7, "color": "#fff"}, {"offset": 0.7125, "color": "#fff"}, {"offset": 0.7125, "color": "#000"}, {"offset": 0.725, "color": "#000"},
            {"offset": 0.725, "color": "#fff"}, {"offset": 0.7375, "color": "#fff"}, {"offset": 0.7375, "color": "#000"}, {"offset": 0.75, "color": "#000"},
            {"offset": 0.75, "color": "#fff"}, {"offset": 0.7625, "color": "#fff"}, {"offset": 0.7625, "color": "#000"}, {"offset": 0.775, "color": "#000"},
            {"offset": 0.775, "color": "#fff"}, {"offset": 0.7875, "color": "#fff"}, {"offset": 0.7875, "color": "#000"}, {"offset": 0.8, "color": "#000"},
            {"offset": 0.8, "color": "#fff"}, {"offset": 0.8125, "color": "#fff"}, {"offset": 0.8125, "color": "#000"}, {"offset": 0.825, "color": "#000"},
            {"offset": 0.825, "color": "#fff"}, {"offset": 0.8375, "color": "#fff"}, {"offset": 0.8375, "color": "#000"}, {"offset": 0.85, "color": "#000"},
            {"offset": 0.85, "color": "#fff"}, {"offset": 0.8625, "color": "#fff"}, {"offset": 0.8625, "color": "#000"}, {"offset": 0.875, "color": "#000"},
            {"offset": 0.875, "color": "#fff"}, {"offset": 0.8875, "color": "#fff"}, {"offset": 0.8875, "color": "#000"}, {"offset": 0.9, "color": "#000"},
            {"offset": 0.9, "color": "#fff"}, {"offset": 0.9125, "color": "#fff"}, {"offset": 0.9125, "color": "#000"}, {"offset": 0.925, "color": "#000"},
            {"offset": 0.925, "color": "#fff"}, {"offset": 0.9375, "color": "#fff"}, {"offset": 0.9375, "color": "#000"}, {"offset": 0.95, "color": "#000"},
            {"offset": 0.95, "color": "#fff"}, {"offset": 0.9625, "color": "#fff"}, {"offset": 0.9625, "color": "#000"}, {"offset": 0.975, "color": "#000"},
            {"offset": 0.975, "color": "#fff"}, {"offset": 0.9875, "color": "#fff"}, {"offset": 0.9875, "color": "#000"}, {"offset": 1, "color": "#000"}
          ]}},
          "encoding": {"x": {"field": "group", "type": "nominal", "sort": null}, "y": {"field": "mean", "type": "quantitative"}}
        },
        {
          "mark": {"type": "rule", "strokeWidth": 2, "color": "black"},
          "encoding": {"x": {"field": "group", "type": "nominal", "sort": null}, "y": {"field": "mean", "type": "quantitative"}, "y2": {"field": "upper"}}
        },
        {
          "mark": {"type": "tick", "size": 7, "thickness": 2, "color": "black"},
          "encoding": {"x": {"field": "group", "type": "nominal", "sort": null}, "y": {"field": "upper", "type": "quantitative"}}
        },
        {
          "mark": {"type": "text", "baseline": "alphabetic", "dy": 1, "fontSize": 17, "font": "Liberation Sans", "fontWeight": "bold", "color": "black"},
          "encoding": {"x": {"field": "group", "type": "nominal", "sort": null}, "y": {"field": "upper", "type": "quantitative"}, "text": {"field": "sig"}}
        },
        {
          "mark": {"type": "rule", "strokeDash": [8, 5], "strokeWidth": 2.5, "color": "black"},
          "encoding": {"y": {"aggregate": "mean", "field": "ref", "type": "quantitative"}}
        }
      ]
    },
    {
      "title": {"text": "Rotterdam", "dy": -10},
      "width": 298,
      "height": 154,
      "data": {"values": [
        {"group": "Diabetes-Present", "mean": 7, "upper": 7.6, "ref": 7.05, "sig": ""},
        {"group": "Diabetes-β-cell-Failure", "mean": 6, "upper": 6.7, "ref": 7.05, "sig": ""},
        {"group": "Diabetes-Insulin Resistant", "mean": 9, "upper": 9.85, "ref": 7.05, "sig": "***"}
      ]},
      "layer": [
        {
          "mark": {"type": "bar", "stroke": "black", "strokeWidth": 2},
          "encoding": {
            "x": {"field": "group", "type": "nominal", "sort": null, "scale": {"paddingInner": 0.42, "paddingOuter": 0.21}, "axis": {"title": null, "labelExpr": "datum.value == 'Diabetes-β-cell-Failure' ? ['Diabetes-β-cell-', 'Failure'] : indexof(datum.value, ' ') > 0 ? split(datum.value, ' ') : datum.value"}},
            "y": {"field": "mean", "type": "quantitative", "scale": {"domain": [0, 10], "nice": false}, "axis": {"title": null, "tickCount": 10, "values": [0, 2, 4, 6, 8, 10]}},
            "fill": {"condition": {"test": "datum.group === 'Diabetes-β-cell-Failure'", "value": "black"}, "value": "white"}
          }
        },
        {
          "transform": [{"filter": "datum.group === 'Diabetes-Present'"}],
          "mark": {"type": "bar", "stroke": "black", "strokeWidth": 2, "fill": {
          "gradient": "linear", "x1": 0, "y1": 1, "x2": 0.626, "y2": -0.196,
          "stops": [
            {"offset": 0, "color": "#fff"}, {"offset": 0.0125, "color": "#fff"}, {"offset": 0.0125, "color": "#000"}, {"offset": 0.025, "color": "#000"},
            {"offset": 0.025, "color": "#fff"}, {"offset": 0.0375, "color": "#fff"}, {"offset": 0.0375, "color": "#000"}, {"offset": 0.05, "color": "#000"},
            {"offset": 0.05, "color": "#fff"}, {"offset": 0.0625, "color": "#fff"}, {"offset": 0.0625, "color": "#000"}, {"offset": 0.075, "color": "#000"},
            {"offset": 0.075, "color": "#fff"}, {"offset": 0.0875, "color": "#fff"}, {"offset": 0.0875, "color": "#000"}, {"offset": 0.1, "color": "#000"},
            {"offset": 0.1, "color": "#fff"}, {"offset": 0.1125, "color": "#fff"}, {"offset": 0.1125, "color": "#000"}, {"offset": 0.125, "color": "#000"},
            {"offset": 0.125, "color": "#fff"}, {"offset": 0.1375, "color": "#fff"}, {"offset": 0.1375, "color": "#000"}, {"offset": 0.15, "color": "#000"},
            {"offset": 0.15, "color": "#fff"}, {"offset": 0.1625, "color": "#fff"}, {"offset": 0.1625, "color": "#000"}, {"offset": 0.175, "color": "#000"},
            {"offset": 0.175, "color": "#fff"}, {"offset": 0.1875, "color": "#fff"}, {"offset": 0.1875, "color": "#000"}, {"offset": 0.2, "color": "#000"},
            {"offset": 0.2, "color": "#fff"}, {"offset": 0.2125, "color": "#fff"}, {"offset": 0.2125, "color": "#000"}, {"offset": 0.225, "color": "#000"},
            {"offset": 0.225, "color": "#fff"}, {"offset": 0.2375, "color": "#fff"}, {"offset": 0.2375, "color": "#000"}, {"offset": 0.25, "color": "#000"},
            {"offset": 0.25, "color": "#fff"}, {"offset": 0.2625, "color": "#fff"}, {"offset": 0.2625, "color": "#000"}, {"offset": 0.275, "color": "#000"},
            {"offset": 0.275, "color": "#fff"}, {"offset": 0.2875, "color": "#fff"}, {"offset": 0.2875, "color": "#000"}, {"offset": 0.3, "color": "#000"},
            {"offset": 0.3, "color": "#fff"}, {"offset": 0.3125, "color": "#fff"}, {"offset": 0.3125, "color": "#000"}, {"offset": 0.325, "color": "#000"},
            {"offset": 0.325, "color": "#fff"}, {"offset": 0.3375, "color": "#fff"}, {"offset": 0.3375, "color": "#000"}, {"offset": 0.35, "color": "#000"},
            {"offset": 0.35, "color": "#fff"}, {"offset": 0.3625, "color": "#fff"}, {"offset": 0.3625, "color": "#000"}, {"offset": 0.375, "color": "#000"},
            {"offset": 0.375, "color": "#fff"}, {"offset": 0.3875, "color": "#fff"}, {"offset": 0.3875, "color": "#000"}, {"offset": 0.4, "color": "#000"},
            {"offset": 0.4, "color": "#fff"}, {"offset": 0.4125, "color": "#fff"}, {"offset": 0.4125, "color": "#000"}, {"offset": 0.425, "color": "#000"},
            {"offset": 0.425, "color": "#fff"}, {"offset": 0.4375, "color": "#fff"}, {"offset": 0.4375, "color": "#000"}, {"offset": 0.45, "color": "#000"},
            {"offset": 0.45, "color": "#fff"}, {"offset": 0.4625, "color": "#fff"}, {"offset": 0.4625, "color": "#000"}, {"offset": 0.475, "color": "#000"},
            {"offset": 0.475, "color": "#fff"}, {"offset": 0.4875, "color": "#fff"}, {"offset": 0.4875, "color": "#000"}, {"offset": 0.5, "color": "#000"},
            {"offset": 0.5, "color": "#fff"}, {"offset": 0.5125, "color": "#fff"}, {"offset": 0.5125, "color": "#000"}, {"offset": 0.525, "color": "#000"},
            {"offset": 0.525, "color": "#fff"}, {"offset": 0.5375, "color": "#fff"}, {"offset": 0.5375, "color": "#000"}, {"offset": 0.55, "color": "#000"},
            {"offset": 0.55, "color": "#fff"}, {"offset": 0.5625, "color": "#fff"}, {"offset": 0.5625, "color": "#000"}, {"offset": 0.575, "color": "#000"},
            {"offset": 0.575, "color": "#fff"}, {"offset": 0.5875, "color": "#fff"}, {"offset": 0.5875, "color": "#000"}, {"offset": 0.6, "color": "#000"},
            {"offset": 0.6, "color": "#fff"}, {"offset": 0.6125, "color": "#fff"}, {"offset": 0.6125, "color": "#000"}, {"offset": 0.625, "color": "#000"},
            {"offset": 0.625, "color": "#fff"}, {"offset": 0.6375, "color": "#fff"}, {"offset": 0.6375, "color": "#000"}, {"offset": 0.65, "color": "#000"},
            {"offset": 0.65, "color": "#fff"}, {"offset": 0.6625, "color": "#fff"}, {"offset": 0.6625, "color": "#000"}, {"offset": 0.675, "color": "#000"},
            {"offset": 0.675, "color": "#fff"}, {"offset": 0.6875, "color": "#fff"}, {"offset": 0.6875, "color": "#000"}, {"offset": 0.7, "color": "#000"},
            {"offset": 0.7, "color": "#fff"}, {"offset": 0.7125, "color": "#fff"}, {"offset": 0.7125, "color": "#000"}, {"offset": 0.725, "color": "#000"},
            {"offset": 0.725, "color": "#fff"}, {"offset": 0.7375, "color": "#fff"}, {"offset": 0.7375, "color": "#000"}, {"offset": 0.75, "color": "#000"},
            {"offset": 0.75, "color": "#fff"}, {"offset": 0.7625, "color": "#fff"}, {"offset": 0.7625, "color": "#000"}, {"offset": 0.775, "color": "#000"},
            {"offset": 0.775, "color": "#fff"}, {"offset": 0.7875, "color": "#fff"}, {"offset": 0.7875, "color": "#000"}, {"offset": 0.8, "color": "#000"},
            {"offset": 0.8, "color": "#fff"}, {"offset": 0.8125, "color": "#fff"}, {"offset": 0.8125, "color": "#000"}, {"offset": 0.825, "color": "#000"},
            {"offset": 0.825, "color": "#fff"}, {"offset": 0.8375, "color": "#fff"}, {"offset": 0.8375, "color": "#000"}, {"offset": 0.85, "color": "#000"},
            {"offset": 0.85, "color": "#fff"}, {"offset": 0.8625, "color": "#fff"}, {"offset": 0.8625, "color": "#000"}, {"offset": 0.875, "color": "#000"},
            {"offset": 0.875, "color": "#fff"}, {"offset": 0.8875, "color": "#fff"}, {"offset": 0.8875, "color": "#000"}, {"offset": 0.9, "color": "#000"},
            {"offset": 0.9, "color": "#fff"}, {"offset": 0.9125, "color": "#fff"}, {"offset": 0.9125, "color": "#000"}, {"offset": 0.925, "color": "#000"},
            {"offset": 0.925, "color": "#fff"}, {"offset": 0.9375, "color": "#fff"}, {"offset": 0.9375, "color": "#000"}, {"offset": 0.95, "color": "#000"},
            {"offset": 0.95, "color": "#fff"}, {"offset": 0.9625, "color": "#fff"}, {"offset": 0.9625, "color": "#000"}, {"offset": 0.975, "color": "#000"},
            {"offset": 0.975, "color": "#fff"}, {"offset": 0.9875, "color": "#fff"}, {"offset": 0.9875, "color": "#000"}, {"offset": 1, "color": "#000"}
          ]}},
          "encoding": {"x": {"field": "group", "type": "nominal", "sort": null}, "y": {"field": "mean", "type": "quantitative"}}
        },
        {
          "mark": {"type": "rule", "strokeWidth": 2, "color": "black"},
          "encoding": {"x": {"field": "group", "type": "nominal", "sort": null}, "y": {"field": "mean", "type": "quantitative"}, "y2": {"field": "upper"}}
        },
        {
          "mark": {"type": "tick", "size": 7, "thickness": 2, "color": "black"},
          "encoding": {"x": {"field": "group", "type": "nominal", "sort": null}, "y": {"field": "upper", "type": "quantitative"}}
        },
        {
          "mark": {"type": "text", "baseline": "alphabetic", "dy": 1, "fontSize": 17, "font": "Liberation Sans", "fontWeight": "bold", "color": "black"},
          "encoding": {"x": {"field": "group", "type": "nominal", "sort": null}, "y": {"field": "upper", "type": "quantitative"}, "text": {"field": "sig"}}
        },
        {
          "mark": {"type": "rule", "strokeDash": [8, 5], "strokeWidth": 2.5, "color": "black"},
          "encoding": {"y": {"aggregate": "mean", "field": "ref", "type": "quantitative"}}
        }
      ]
    }
  ],
  "config": {
    "background": "white",
    "view": {"stroke": null},
    "title": {"font": "Liberation Sans", "fontSize": 16, "fontWeight": "bold", "color": "black", "offset": -4},
    "axisY": {"grid": false, "labelOverlap": false, "domainColor": "black", "domainWidth": 1.5, "tickColor": "black", "tickWidth": 1.5, "tickSize": 4, "labelFont": "Liberation Sans", "labelFontWeight": "bold", "labelFontSize": 10, "labelColor": "black", "labelPadding": 2},
    "axisX": {"grid": false, "domainColor": "black", "domainWidth": 1.5, "tickColor": "black", "tickWidth": 1.5, "tickSize": 3, "labelFont": "Liberation Sans", "labelFontWeight": "bold", "labelFontSize": 9.5, "labelColor": "black", "labelAngle": 0, "labelPadding": 3, "labelLineHeight": 11}
  }
}
